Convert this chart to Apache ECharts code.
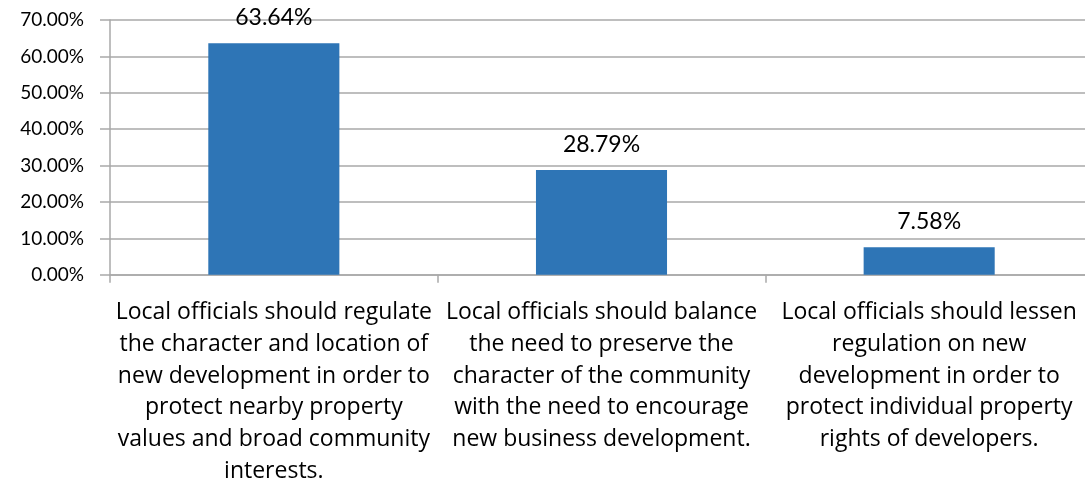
<!DOCTYPE html>
<html>
<head>
<meta charset="utf-8">
<script src="https://cdn.jsdelivr.net/npm/echarts@6/dist/echarts.min.js"></script>
<style>
  html, body { margin: 0; padding: 0; background: #fff; overflow: hidden; }
  /* the plot runs slightly past the right edge of the page */
  #chart { width: 1093px; height: 487px; }
</style>
</head>
<body>
<div id="chart"></div>
<script>
// Survey responses on how local officials should handle new development
const categories = [
  'Local officials should regulate\nthe character and location of\nnew development in order to\nprotect nearby property\nvalues and broad community\ninterests.',
  'Local officials should balance\nthe need to preserve the\ncharacter of the community\nwith the need to encourage\nnew business development.',
  'Local officials should lessen\nregulation on new\ndevelopment in order to\nprotect individual property\nrights of developers.'
];
const shares = [63.64, 28.79, 7.58]; // percent of respondents
const yMin = 0;
const yMax = 70;
const yStep = 10;

const FONT = '"Open Sans", Lato, sans-serif';
const GRID_GREY = '#a9a9a9';

const chart = echarts.init(document.getElementById('chart'), null, { renderer: 'canvas' });
chart.setOption({
  animation: false,
  grid: { left: 110, top: 20, right: 0, bottom: 211, containLabel: false },
  xAxis: {
    type: 'category',
    data: categories,
    axisLine: { lineStyle: { color: GRID_GREY, width: 1.5 } },
    axisTick: { show: true, length: 8, lineStyle: { color: GRID_GREY, width: 1.5 } },
    axisLabel: {
      interval: 0,
      margin: 22,
      color: '#000',
      fontFamily: FONT,
      fontSize: 23,
      lineHeight: 31.7,
      align: 'center'
    }
  },
  yAxis: {
    type: 'value',
    min: yMin,
    max: yMax,
    interval: yStep,
    axisLine: { show: true, lineStyle: { color: GRID_GREY, width: 1.5 } },
    axisTick: { show: true, length: 10, lineStyle: { color: GRID_GREY, width: 1.5 } },
    splitLine: { show: true, lineStyle: { color: GRID_GREY, width: 1.5 } },
    axisLabel: {
      margin: 26,
      color: '#000',
      fontFamily: 'Lato, sans-serif',
      fontSize: 19,
      formatter: v => v.toFixed(2) + '%'
    }
  },
  series: [{
    type: 'bar',
    data: shares,
    barWidth: '40%',
    itemStyle: { color: '#2e75b6' },
    label: {
      show: true,
      position: 'top',
      distance: 14,
      color: '#000',
      fontFamily: 'Lato, sans-serif',
      fontSize: 23,
      formatter: p => p.value.toFixed(2) + '%'
    }
  }]
});
</script>
</body>
</html>
